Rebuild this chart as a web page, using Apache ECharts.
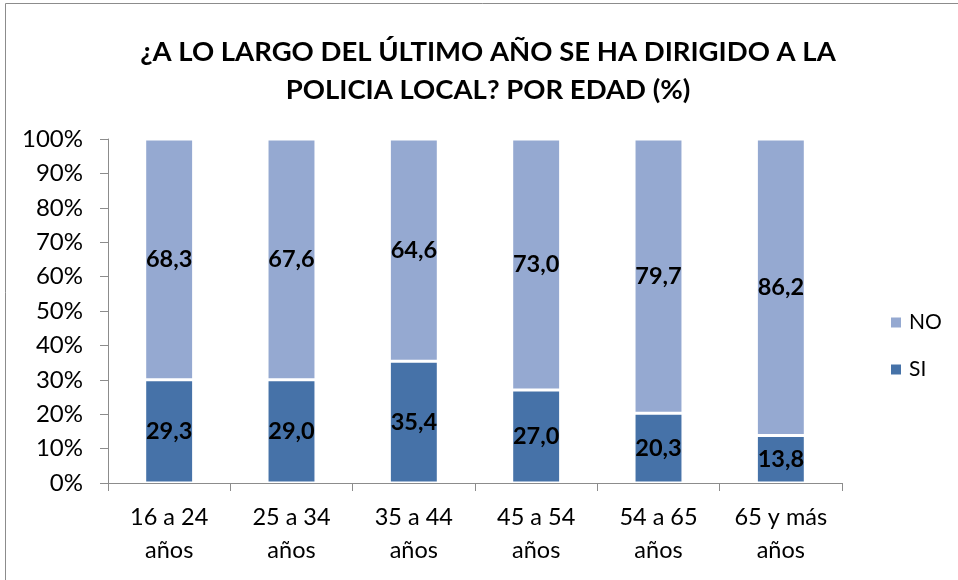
<!DOCTYPE html>
<html>
<head>
<meta charset="utf-8">
<script src="https://cdn.jsdelivr.net/npm/echarts@6/dist/echarts.min.js"></script>
<style>
  html, body { margin: 0; padding: 0; background: #fff; }
  #chart { width: 958px; height: 580px; }
</style>
</head>
<body>
<div id="chart"></div>
<script>
// Age groups and answers (%)
const categories = ['16 a 24\naños', '25 a 34\naños', '35 a 44\naños', '45 a 54\naños', '54 a 65\naños', '65 y más\naños'];
const siValues = [29.3, 29.0, 35.4, 27.0, 20.3, 13.8];
const noValues = [68.3, 67.6, 64.6, 73.0, 79.7, 86.2];
const yTicks = [0, 10, 20, 30, 40, 50, 60, 70, 80, 90, 100];

const FONT = 'Lato, "Open Sans", sans-serif';

// 100% stacked: each column is normalised to its own total
function share(values, i) {
  const total = siValues[i] + noValues[i];
  return values[i] / total * 100;
}
function seriesData(values) {
  return values.map((v, i) => ({ value: share(values, i), raw: v }));
}
const fmt = p => p.data.raw.toFixed(1).replace('.', ',');

const chart = echarts.init(document.getElementById('chart'));
chart.setOption({
  animation: false,
  backgroundColor: '#ffffff',
  graphic: [{
    type: 'rect',
    shape: { x: 5.5, y: 3.5, width: 970, height: 600 },
    style: { fill: 'none', stroke: '#8c8c8c', lineWidth: 1 },
    silent: true
  }],
  title: {
    text: '¿A LO LARGO DEL ÚLTIMO AÑO SE HA DIRIGIDO A LA\nPOLICIA LOCAL? POR EDAD (%)',
    left: 483,
    textAlign: 'center',
    top: 28,
    textStyle: { fontFamily: FONT, fontWeight: 'bold', fontSize: 27.5, lineHeight: 38, color: '#000' }
  },
  legend: {
    orient: 'vertical',
    left: 884,
    top: 307,
    itemWidth: 12,
    itemHeight: 12,
    itemGap: 26,
    icon: 'rect',
    data: ['NO', 'SI'],
    textStyle: { fontFamily: FONT, fontSize: 21, color: '#000', padding: [0, 0, 0, 2] }
  },
  grid: { left: 108, right: 116, top: 139, bottom: 97, containLabel: false },
  xAxis: {
    type: 'category',
    data: categories,
    axisLine: { lineStyle: { color: '#8c8c8c', width: 1 } },
    axisTick: { show: true, length: 8, lineStyle: { color: '#8c8c8c' } },
    axisLabel: { fontFamily: FONT, fontSize: 23.5, color: '#000', lineHeight: 33, margin: 18 }
  },
  yAxis: {
    type: 'value',
    min: 0,
    max: 100,
    interval: 10,
    axisLine: { show: true, lineStyle: { color: '#8c8c8c', width: 1 } },
    axisTick: { show: true, length: 8, lineStyle: { color: '#8c8c8c' } },
    splitLine: { show: false },
    axisLabel: {
      fontFamily: FONT, fontSize: 24, color: '#000', margin: 25,
      formatter: v => (yTicks.includes(v) ? v + '%' : '')
    }
  },
  series: [
    {
      name: 'SI',
      type: 'bar',
      stack: 'total',
      barWidth: '40%',
      data: seriesData(siValues),
      itemStyle: { color: '#4672A8', borderColor: '#ffffff', borderWidth: 1.5 },
      label: {
        show: true, position: 'inside', formatter: fmt,
        fontFamily: FONT, fontWeight: 'bold', fontSize: 23.5, color: '#000'
      }
    },
    {
      name: 'NO',
      type: 'bar',
      stack: 'total',
      barWidth: '40%',
      data: seriesData(noValues),
      itemStyle: { color: '#95A9D1', borderColor: '#ffffff', borderWidth: 1.5 },
      label: {
        show: true, position: 'inside', formatter: fmt,
        fontFamily: FONT, fontWeight: 'bold', fontSize: 23.5, color: '#000'
      }
    }
  ]
});
</script>
</body>
</html>
